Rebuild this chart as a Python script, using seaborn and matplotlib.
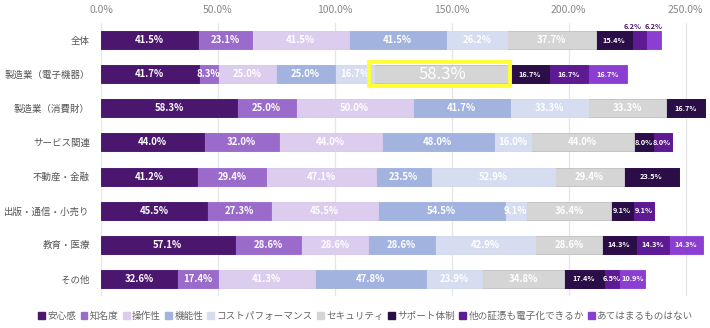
import matplotlib
matplotlib.use("Agg")
import matplotlib.pyplot as plt
from matplotlib.patches import Rectangle, Patch
import seaborn as sns
import pandas as pd
import numpy as np

categories = ['全体', '製造業（電子機器）', '製造業（消費財）', 'サービス関連',
              '不動産・金融', '出版・通信・小売り', '教育・医療', 'その他']
series_names = ['安心感', '知名度', '操作性', '機能性', 'コストパフォーマンス',
                'セキュリティ', 'サポート体制', '他の証憑も電子化できるか', 'あてはまるものはない']
anshin = [41.5, 41.7, 58.3, 44.0, 41.2, 45.5, 57.1, 32.6]
chimeido = [23.1, 8.3, 25.0, 32.0, 29.4, 27.3, 28.6, 17.4]
sousa = [41.5, 25.0, 50.0, 44.0, 47.1, 45.5, 28.6, 41.3]
kinou = [41.5, 25.0, 41.7, 48.0, 23.5, 54.5, 28.6, 47.8]
cospa = [26.2, 16.7, 33.3, 16.0, 52.9, 9.1, 42.9, 23.9]
security = [37.7, 58.3, 33.3, 44.0, 29.4, 36.4, 28.6, 34.8]
support = [15.4, 16.7, 16.7, 8.0, 23.5, 9.1, 14.3, 17.4]
shouhyou = [6.2, 16.7, 0.0, 8.0, 0.0, 9.1, 14.3, 6.5]
nashi = [6.2, 16.7, 0.0, 0.0, 0.0, 0.0, 14.3, 10.9]
xticks = [0, 50, 100, 150, 200, 250]

series = [anshin, chimeido, sousa, kinou, cospa, security, support, shouhyou, nashi]
colors = ['#4b176e', '#9b6bcb', '#dccdef', '#a3b3df', '#d6ddf1', '#d5d5d5',
          '#2b0e48', '#5e1a92', '#8b3ed1']

FONT = ['Noto Sans CJK JP', 'DejaVu Sans']
sns.set_theme(style='white')
plt.rcParams['font.family'] = FONT

vals = np.array(series)
cum = np.cumsum(vals, axis=0)
starts = cum - vals

fig = plt.figure(figsize=(7.10, 3.28), dpi=100)
ax = fig.add_axes([101 / 710, 1 - 296 / 328, 608 / 710, 273 / 328])

# Draw cumulative bars from last series to first so that each overlays the previous
for i in range(len(series) - 1, -1, -1):
    df = pd.DataFrame({'cat': categories, 'val': cum[i]})
    sns.barplot(data=df, y='cat', x='val', orient='h', color=colors[i],
                saturation=1, width=0.53, ax=ax, edgecolor=colors[i],
                linewidth=0.6, order=categories)

ax.set_xlim(0, 260)
ax.set_ylim(7.5, -0.5)
ax.set_xticks(xticks)
ax.set_xticklabels([f'{t:.1f}%' for t in xticks])
ax.xaxis.tick_top()
ax.tick_params(axis='x', length=0, labelsize=7.5, labelcolor='#888888', pad=6)
ax.tick_params(axis='y', length=0, labelsize=6.8, labelcolor='#555555', pad=8)
ax.set_xlabel('')
ax.set_ylabel('')
for s in ax.spines.values():
    s.set_visible(False)
ax.set_axisbelow(True)
ax.grid(axis='x', color='#e6e6e6', linewidth=0.9)
ax.grid(axis='y', visible=False)

# Value labels
for i in range(len(series)):
    for j in range(len(categories)):
        v = vals[i, j]
        if v <= 0:
            continue
        cx = starts[i, j] + v / 2
        if i == 5 and j == 1:
            continue
        if j == 0 and i >= 7:
            lx = starts[i, j] + (0.4 if i == 7 else 3.3)
            ax.text(lx, j - 0.3, f'{v:.1f}%', ha='center', va='bottom',
                    fontsize=5.2, fontweight='bold', color='#4b176e')
            continue
        if i >= 6:
            fs = 5.3
        else:
            fs = 6.9
        ax.text(cx, j, f'{v:.1f}%', ha='center', va='center', fontsize=fs,
                fontweight='bold', color='white')

# highlighted segment
j = 1
i = 5
v = vals[i, j]
ax.text(starts[i, j] + v / 2, j, f'{v:.1f}%', ha='center', va='center',
        fontsize=12, color='white')
ax.add_patch(Rectangle((starts[i, j] - 2.0, j - 0.36), v + 2.0, 0.70,
                       fill=False, edgecolor='#ffff33', linewidth=2.8, zorder=5))

handles = [Patch(facecolor=c, edgecolor=c) for c in colors]
fig.legend(handles, series_names, loc='center', bbox_to_anchor=(366 / 710, 1 - 316 / 328),
           ncol=9, frameon=False, fontsize=6.9, labelcolor='#666666',
           handlelength=0.7, handleheight=0.7, handletextpad=0.25, columnspacing=0.45)

fig.savefig('out.png', dpi=100)
